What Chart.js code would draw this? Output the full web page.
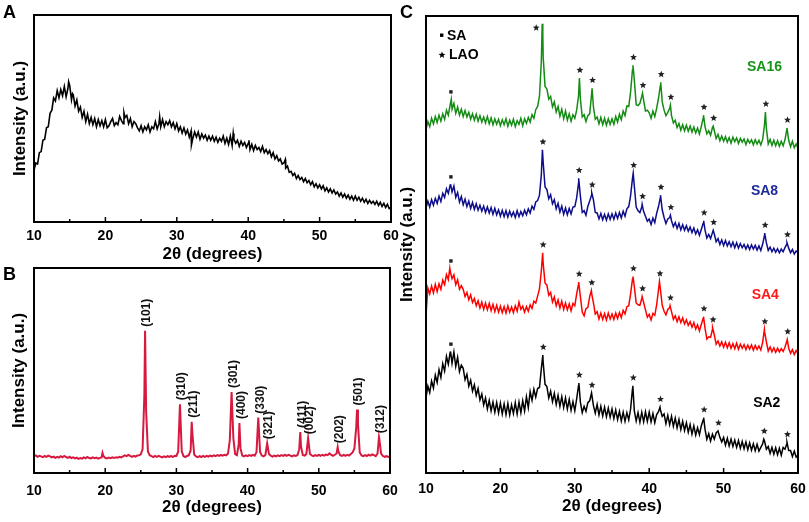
<!DOCTYPE html>
<html><head><meta charset="utf-8">
<script src="https://cdn.jsdelivr.net/npm/chart.js@4.4.1/dist/chart.umd.min.js"></script>
<style>
html,body{margin:0;padding:0;background:#fff;}
#wrap{position:relative;width:809px;height:522px;overflow:hidden;font-family:"Liberation Sans",Arial,sans-serif;}
.box{position:absolute;}
.lbl{position:absolute;font-weight:bold;font-size:18px;line-height:18px;color:#000;}
</style></head><body>
<div id="wrap">
 <div class="box" style="left:0;top:0;width:405px;height:270px"><canvas id="cA"></canvas></div>
 <div class="box" style="left:0;top:253px;width:408px;height:269px"><canvas id="cB"></canvas></div>
 <div class="box" style="left:390px;top:0;width:424px;height:522px"><canvas id="cC"></canvas></div>
 <div class="lbl" style="left:3px;top:3px">A</div>
 <div class="lbl" style="left:3px;top:265px">B</div>
 <div class="lbl" style="left:400px;top:3px">C</div>
</div>
<script>
// ---------- data (2θ grid starts at 10°, step 0.25°) ----------
const GRID_START = 10, GRID_STEP = 0.25;
const xTicks = [10, 20, 30, 40, 50, 60];
const xMinorTicks = [15, 25, 35, 45, 55];

// Panel A: amorphous sample
const aBase = [
 25,28.5,28,33.5,34,39.5,40,45.5,46,52.5,54,60,58.5,63.5,60,64,61,65.5,60.5,64.5,
 66,59,61.5,56,59,53.5,55.5,50.5,53.5,48.5,52,47.5,50.5,47,50,46,49.5,46.5,49,46,
 49.5,45.5,46.5,48.5,50,46.5,48,47,51,49,47.5,50.5,51.5,47.5,50,46,48.5,47.5,45.5,44,
 46.5,43.5,46,44.5,47,43.5,46,45,48.5,45,47.5,46,49.5,46,48.5,47,49,46,48,45,
 47.5,44,46,43,45.5,42.5,44.5,41,44,40.5,43.5,41,43.5,40,42.5,40.5,42,39.5,41.5,39.5,
 41.5,39,41,38.5,40.5,39,41.5,38,40.5,37.5,41.5,37,40,38,39.5,36.5,39,37,38.5,36,
 38,35,37.5,34.5,37,35,36,34,36.5,33.5,35,33,34.5,31.5,33.5,30.5,32,29.5,30.5,28,
 28.5,26,27,24,24.5,22.5,23.5,21,22.5,20.5,21.5,19.5,21,19,20,18,19.5,17,18.5,16.5,
 18,16,17.5,15,16.5,14.5,16,14,15.5,13.5,14.5,12.5,14,12,13.5,11.5,13,11,12.5,10.5,
 12.5,10.5,12,10,11.5,9.5,11,9,10.5,9,10,8.5,10,8,9.5,7.5,9,7,8.5,6.5,
 7];
const aSpikes = [[14.85,67.8],[15.4,62],[22.6,52.8],[27.6,50.8],[32.05,37.2],[37.9,42.8],[40.1,39.5],[45.2,30.2]];

// Panel B: crystalline reference
const bBase = [
 8.2,8.6,7.9,8.4,8.1,7.7,8.3,7.9,8.5,8.1,7.6,8,7.4,7.9,7.5,8.2,7.7,8.3,7.8,7.4,
 7.9,7.3,7.6,7.1,7.5,6.9,7.3,7,7.6,7.2,7.8,7.3,7.1,7.6,7.2,7.5,7,7.4,7.6,8.3,
 7.4,7.1,7.5,7.2,7.6,7.3,7.7,7.5,7.9,7.6,8.1,8.6,8.2,8.8,8.3,7.9,8.4,8,8.5,8.6,
 9.1,11.5,38,30,10.5,8.7,8.2,7.8,8.3,7.9,8.4,8,7.6,8.1,7.7,8.2,7.9,8.3,7.8,8.4,
 8.3,10.4,33.5,10.6,8.2,7.8,8.3,8.7,11,19,9,8.1,7.7,8.2,7.8,8.3,7.9,8.4,8,8.5,
 8.1,8.6,8.2,8.7,8.3,8.8,8.5,8.9,8.6,9.5,16,39.5,17,9.2,8.7,14,12,8.5,8.1,8.6,
 8.2,8.7,8.3,8.8,8.4,10.2,27,10.3,8.5,8.1,8.8,14.5,9.3,8.4,8,8.5,8.1,8.6,8.2,8.7,
 8.3,8.8,8.4,8.9,8.5,8.1,8.6,8.3,8.7,11.5,13,8.8,8.5,9.2,17,9.4,8.6,8.2,8.7,8.3,
 8.8,8.4,8.9,8.5,9,8.7,9.6,8.8,8.4,8.9,9.5,10.5,8.7,8.3,8.8,8.4,8.9,8.5,9.3,10,
 12,22,24,10,8.6,8.2,8.7,8.3,8.9,8.5,9.1,8.7,8.2,9.5,16.5,9.5,8.3,7.9,8.2,7.8,
 8.1];
const bApex = [[19.62,9.8],[25.6,69.4],[32.15,25],[38.85,24.4],[47.4,20],[52.65,12.6],[55.37,31],[58.45,17.5]];
const bPeakPos = [25.6,30.5,32.15,37.75,38.85,41.5,42.75,47.4,48.5,52.65,55.37,58.45];
const bPeakHkl = ['(101)','(310)','(211)','(301)','(400)','(330)','(321)','(411)','(002)','(202)','(501)','(312)'];

// Panel C: composites
const sa16Base = [
 75.2,76.9,75.8,77.6,76.4,78,76.7,78.3,77,78.6,77.4,79.4,78.3,80.6,79.6,80.9,78.7,80.1,78.3,79.6,
 78,79.3,77.9,78.9,77.4,78.6,77.2,78.5,77,78.2,76.8,77.9,76.6,78,76.4,77.7,76.2,77.5,76.3,77.4,
 76,77.3,76.2,77.5,75.9,77.2,76.1,77.4,75.8,77.1,76.3,77.6,76,77.5,76.5,77.8,76.8,78.4,77.6,79.5,
 80.2,82.4,90,91,84.6,84,81.8,82.4,80.1,81.2,79,80.2,78.1,79.6,77.5,79.2,77.2,78.6,77,78.4,
 77.6,79.4,82.5,81.8,77.9,78.4,76.9,78.2,78.6,82.8,80.2,77.4,77.9,76.4,77.8,76.2,77.6,76.1,77.5,76.3,
 77.5,76.3,78,76.8,78.5,77.3,79.2,78.2,80.3,80.2,83.4,88.2,86,80.6,80.4,80.9,82.4,81.6,79.2,79.4,
 78.8,77.6,79.2,78,79.8,82,84.8,81.2,79.4,78.2,78.9,79.8,78.2,76.6,77.2,75.6,76.5,75,76.2,74.9,
 76.1,74.8,75.9,74.6,75.7,74.4,75.5,74.2,75.8,77.6,75.8,74.2,74.9,73.9,75.6,74.9,73.2,74.1,72.7,73.7,
 72.6,73.6,72.4,73.4,72.2,73.5,72.5,73.3,72.1,73.2,72.4,73.1,71.9,73,72.2,72.9,71.8,72.9,72,72.8,
 71.8,73,76.2,75.4,72,73,71.7,72.8,71.6,72.7,71.5,72.6,71.6,72.9,75.2,72.8,71.4,72.6,71.2,72,
 71.1];
const sa16Apex = [[13.4,81.8],[25.62,98.3],[25.7,96],[30.62,86.4],[32.32,84.2],[37.82,89.2],[37.92,87.5],[39.1,83.1],[41.55,85.5],[42.85,80.5],[47.3,78.3],[48.6,75.9],[55.62,79],[58.52,75.5]];

const sa8Base = [
 58,59.5,58.2,59.8,58.6,60.1,59,60.6,59.4,61.2,60.3,62.2,61.2,63,61.5,62.8,60.3,61.4,59.3,60.5,
 58.7,59.9,58.3,59.5,57.9,59.2,57.7,58.9,57.5,58.6,57.3,58.4,57,58.2,56.9,58.1,56.6,57.9,56.5,57.6,
 56.2,57.5,56.1,57.4,56,57.3,56.2,57.1,55.9,57.4,56.1,57.2,56.3,57.5,56.5,57.8,56.9,58.4,57.7,59.3,
 59.6,60.8,65.2,68,62.6,62,60,60.9,58.9,59.8,57.8,59,57.1,58.4,56.6,58,56.5,57.9,56.7,58.2,
 58.3,60.2,63.4,60.6,57,57.4,56.4,58.3,59.5,60.8,59.8,57,56.9,55.6,56.8,55.4,56.6,55.3,56.7,55.5,
 56.7,55.5,56.9,55.7,57,55.8,57.3,56.2,57.8,58.3,60.7,64.4,62.8,58.2,57.4,57,58.2,57.2,56.2,55.1,
 55.6,54.4,55.8,54.8,56.8,58.3,60.3,57.6,55.9,54.6,55.6,55.9,55.2,53.9,54.8,53.5,54.6,53.2,54.3,53.1,
 54.1,52.9,53.8,52.6,53.6,52.3,53.2,52,53.3,54.6,53.2,51.4,52.2,51.3,52.6,52.3,50.6,51.3,50,51,
 49.8,50.9,49.7,50.6,49.5,50.5,49.3,50.4,49.2,50.2,49.3,50,49,49.9,48.9,49.9,49,49.8,48.8,49.7,
 48.7,50.1,52,50.4,48.7,49.4,48.4,49.2,48.3,49.1,48.2,49,48.4,49.3,50.1,49.2,48.2,48.9,47.9,48.6,
 48.2];
const sa8Apex = [[13.3,63.2],[25.65,70.7],[30.52,64.5],[32.28,61.3],[37.85,65.6],[39.05,58.8],[41.52,60.8],[42.85,56.4],[47.32,55.2],[48.6,53.1],[55.52,52.5],[58.52,50.4]];

const sa4Base = [
 34.5,40.5,39.2,40.9,39.4,41.3,39.7,41.4,40.2,42.2,41.2,43.4,42.3,44.2,42.5,43.4,41.2,42.3,40.2,41,
 40.2,38.6,39.5,37.9,39,37.3,38.2,36.6,37.7,36.1,37.4,35.8,37.2,35.7,37.1,35.5,36.9,35.3,36.7,35.2,
 36.5,35.1,36.4,35,36.6,35.2,36.3,35.1,36.6,35.4,37.4,35.8,36.5,35.2,36.4,35.4,36.8,36,37.6,37.2,
 38.7,40.3,44.2,45.8,41.6,41.1,38.9,39.5,37.4,38.5,36.6,37.9,36.1,37.6,35.8,37.2,35.7,37,35.5,37.1,
 36.6,39.2,41.3,38.6,35.2,34.4,36,36.2,38.6,39.4,37.3,34.8,35.3,33.7,35,33.6,34.9,33.5,35,33.7,
 34.8,33.6,35,33.8,35.1,34,35.6,34.8,36.4,36.6,39.2,42.4,40.8,37.2,36.8,36.7,38.2,37.3,35.7,34.1,
 34.7,33.5,34.9,34.5,36.8,40.1,40.3,36.7,35.4,34.6,35.8,36.2,35.3,33.6,34.4,33.1,34.2,32.9,33.9,32.6,
 33.5,32.3,33.1,31.9,32.9,31.5,32.4,31.1,32.5,33.8,31.7,29.3,29.8,29.7,31.4,30.2,28.2,28.9,27.8,28.7,
 27.5,28.6,27.4,28.5,27.3,28.3,27.2,28.4,27.1,28.2,27.3,28.1,27,28,27.1,28,26.9,27.9,27,27.8,
 26.9,28.6,31,28.7,26.7,27.6,26.5,27.4,26.4,27.3,26.5,27.2,26.6,27.5,28.9,27.3,26.2,27,25.9,26.8,
 26.2];
const sa4Apex = [[13.2,44.8],[25.68,48.2],[30.52,41.8],[32.22,39.9],[37.82,43],[39.05,38.6],[41.38,41.9],[42.8,36.6],[47.3,34.2],[48.52,31.8],[55.48,31.4],[58.55,29.2]];

const sa2Base = [
 16.5,19,17.6,20.1,18.6,21.4,19.8,22.6,20.9,23.9,22.3,25.5,23.8,26.4,24,26.5,23.3,25.3,22.2,23.6,
 22.9,20.4,21.6,19,20.3,17.9,19.3,17,18.5,16,17.3,14.9,16.4,14,15.9,13.6,15.5,13.3,15.4,13.1,
 15.3,12.9,15.1,12.8,15.2,12.7,14.9,13,15.4,12.9,15.5,13.2,15.8,13.6,16.7,14.3,17.8,15.9,18.3,16.6,
 18.5,18.7,22.8,24.2,19.4,18.9,16.4,17.9,15.6,17.4,15,17,14.6,16.7,14.3,16.4,14,16.1,13.7,15.6,
 13.6,16.2,19.1,15.5,13.2,14.6,13.5,15.4,15.8,17.5,14.8,13.1,15,12.7,14.6,12.5,14.4,12.3,14.2,12.2,
 14,11.9,13.8,11.7,13.5,11.4,13.3,11.3,13.2,11.6,14,18.4,13.6,11.4,13.2,11.1,13.3,11.2,13.4,11.3,
 13.3,11.2,13,11,12.8,13.4,13.9,12.4,12.9,10.8,12.6,10.6,12.4,10.2,12,9.9,11.7,9.5,11.3,9.3,
 11,8.9,10.6,8.5,10.3,8.3,9.9,8.4,10.3,11.6,9.6,7.4,8.6,7,8.5,7.4,8.8,9.2,7.8,6.8,
 7.8,6.1,7.6,5.9,7.4,5.8,7.2,5.6,7.1,5.4,6.9,5.3,6.8,5.1,6.6,5,6.4,4.9,6.3,4.8,
 5.6,6.4,7,5.2,5.8,4.3,5.6,4.1,5.5,4,5.4,3.9,5.6,5.2,6.4,4.9,4.9,3.6,4.8,3.5,
 3.9];
const sa2Apex = [[13.3,26.6],[25.7,25.8],[30.55,19.7],[37.8,19.1],[41.45,14.4],[47.32,12.1],[55.4,7.4],[58.52,6.7]];

// marker positions (2θ) for phase identification
const saMarks = [13.35];
const lao16 = [25.62,30.62,32.32,37.82,39.1,41.55,42.85,47.3,48.6,55.62,58.52];
const lao8  = [25.65,30.52,32.28,37.85,39.05,41.52,42.85,47.32,48.6,55.52,58.52];
const lao4  = [25.68,30.52,32.22,37.82,39.05,41.38,42.8,47.3,48.52,55.48,58.55];
const lao2  = [25.7,30.55,32.25,37.8,41.45,47.32,49.25,55.4,58.52];
const seriesNames = ['SA2','SA4','SA8','SA16'];

// ---------- helpers ----------
function merge(base, extra) {
  const pts = base.map((y, i) => ({x: GRID_START + i * GRID_STEP, y}));
  extra.forEach(p => pts.push({x: p[0], y: p[1]}));
  return pts.sort((a, b) => a.x - b.x);
}
function peakTop(pts, pos, win) {
  let m = -Infinity;
  for (const p of pts) if (Math.abs(p.x - pos) <= win && p.y > m) m = p.y;
  return m;
}
const FONT = '"Liberation Sans", Arial, Helvetica, sans-serif';

function axes(o) {
  return {
    x: {
      type: 'linear', min: 10, max: 60,
      afterBuildTicks: s => { s.ticks = xTicks.map(v => ({value: v})); },
      ticks: {font: {family: FONT, size: 14, weight: 'bold'}, color: '#000', padding: o.tickPad, maxRotation: 0, autoSkip: false},
      grid: {display: false, drawTicks: false}, border: {display: false},
      title: {display: true, text: '2θ (degrees)', color: '#000', font: {family: FONT, size: 17, weight: 'bold'}, padding: {top: 0, bottom: o.titlePad}},
      afterFit: s => { s.height = o.xH; }
    },
    y: {
      min: 0, max: 100,
      ticks: {display: false}, grid: {display: false, drawTicks: false}, border: {display: false},
      title: {display: true, text: 'Intensity (a.u.)', color: '#000', font: {family: FONT, size: 17, weight: 'bold'}, padding: {top: o.yPad, bottom: 0}},
      afterFit: s => { s.width = o.yW; }
    }
  };
}
const framePlugin = {
  id: 'frame',
  afterDatasetsDraw(chart) {
    const {ctx, chartArea: a} = chart, x = chart.scales.x;
    ctx.save();
    ctx.strokeStyle = '#000';
    ctx.lineWidth = 1.5;
    xTicks.forEach(v => { const p = x.getPixelForValue(v); ctx.beginPath(); ctx.moveTo(p, a.bottom); ctx.lineTo(p, a.bottom - 5); ctx.stroke(); });
    xMinorTicks.forEach(v => { const p = x.getPixelForValue(v); ctx.beginPath(); ctx.moveTo(p, a.bottom); ctx.lineTo(p, a.bottom - 3); ctx.stroke(); });
    ctx.lineWidth = 2;
    ctx.strokeRect(a.left, a.top, a.right - a.left, a.bottom - a.top);
    ctx.restore();
  }
};
function lineDS(data, color, w) {
  return {data, borderColor: color, borderWidth: w, pointRadius: 0, tension: 0, fill: false};
}
function baseOptions(o) {
  return {
    responsive: true, maintainAspectRatio: false, animation: false,
    layout: {padding: o.pad},
    plugins: {legend: {display: false}, tooltip: {enabled: false}},
    scales: axes(o)
  };
}

// ---------- Panel A ----------
const aData = merge(aBase, aSpikes);
new Chart(document.getElementById('cA'), {
  type: 'line',
  data: {datasets: [lineDS(aData, '#000', 1.6)]},
  options: baseOptions({pad: {top: 15, right: 14, left: 0, bottom: 0}, xH: 48, yW: 34, tickPad: 6, titlePad: 5, yPad: 10}),
  plugins: [framePlugin]
});

// ---------- Panel B ----------
const bData = merge(bBase, bApex);
const hklPlugin = {
  id: 'hkl',
  afterDatasetsDraw(chart) {
    const {ctx} = chart, x = chart.scales.x, y = chart.scales.y;
    ctx.save();
    ctx.fillStyle = '#111';
    ctx.font = 'bold 12px ' + FONT;
    ctx.textAlign = 'left'; ctx.textBaseline = 'middle';
    bPeakPos.forEach((pos, i) => {
      const top = peakTop(bData, pos, 0.2);
      const px = x.getPixelForValue(pos) + 2, py = y.getPixelForValue(top) - 4;
      ctx.save(); ctx.translate(px, py); ctx.rotate(-Math.PI / 2);
      ctx.fillText(bPeakHkl[i], 0, 0);
      ctx.restore();
    });
    ctx.restore();
  }
};
new Chart(document.getElementById('cB'), {
  type: 'line',
  data: {datasets: [lineDS(bData, '#d8193f', 2)]},
  options: baseOptions({pad: {top: 15, right: 18, left: 0, bottom: 0}, xH: 49, yW: 34, tickPad: 10, titlePad: 4, yPad: 9}),
  plugins: [framePlugin, hklPlugin]
});

// ---------- Panel C ----------
const cSeries = [
  {data: merge(sa2Base, sa2Apex), color: '#000000', text: '#000000', lao: lao2, label: [55.8, 15.3]},
  {data: merge(sa4Base, sa4Apex), color: '#ff0000', text: '#ff1a1a', lao: lao4, label: [55.6, 38.9]},
  {data: merge(sa8Base, sa8Apex), color: '#0d0d8c', text: '#1f2a99', lao: lao8, label: [55.5, 61.7]},
  {data: merge(sa16Base, sa16Apex), color: '#148c14', text: '#17941a', lao: lao16, label: [55.5, 88.8]}
];
function drawStar(ctx, cx, cy, r) {
  ctx.beginPath();
  for (let i = 0; i < 10; i++) {
    const ang = -Math.PI / 2 + i * Math.PI / 5;
    const rad = i % 2 ? r * 0.45 : r;
    ctx.lineTo(cx + rad * Math.cos(ang), cy + rad * Math.sin(ang));
  }
  ctx.closePath(); ctx.fill();
}
const markPlugin = {
  id: 'marks',
  afterDatasetsDraw(chart) {
    const {ctx, chartArea: a} = chart, x = chart.scales.x, y = chart.scales.y;
    ctx.save();
    ctx.fillStyle = '#222';
    cSeries.forEach(s => {
      s.lao.forEach(pos => {
        const px = x.getPixelForValue(pos), py = y.getPixelForValue(peakTop(s.data, pos, 0.15));
        if (py - 8 < a.top + 6) drawStar(ctx, px - 6, py + 4, 3.6);
        else drawStar(ctx, px + 0.5, py - 8, 3.6);
      });
      saMarks.forEach(pos => {
        const px = x.getPixelForValue(pos), py = y.getPixelForValue(peakTop(s.data, pos, 0.3));
        ctx.fillRect(px - 1.7, py - 9, 3.4, 3.4);
      });
    });
    // legend
    ctx.fillStyle = '#000';
    ctx.fillRect(a.left + 14, a.top + 17.5, 3.4, 3.4);
    drawStar(ctx, a.left + 16, a.top + 39, 3.6);
    ctx.font = 'bold 14px ' + FONT;
    ctx.textAlign = 'left'; ctx.textBaseline = 'middle';
    ctx.fillText('SA', a.left + 21, a.top + 20);
    ctx.fillText('LAO', a.left + 23, a.top + 39);
    // series names
    ctx.textAlign = 'center';
    cSeries.forEach((s, i) => {
      ctx.fillStyle = s.text;
      ctx.fillText(seriesNames[i], x.getPixelForValue(s.label[0]), y.getPixelForValue(s.label[1]));
    });
    ctx.restore();
  }
};
new Chart(document.getElementById('cC'), {
  type: 'line',
  data: {datasets: cSeries.map(s => lineDS(s.data, s.color, 1.5))},
  options: baseOptions({pad: {top: 16, right: 16, left: 0, bottom: 0}, xH: 49, yW: 36, tickPad: 8, titlePad: 5, yPad: 7}),
  plugins: [framePlugin, markPlugin]
});
</script>
</body></html>
